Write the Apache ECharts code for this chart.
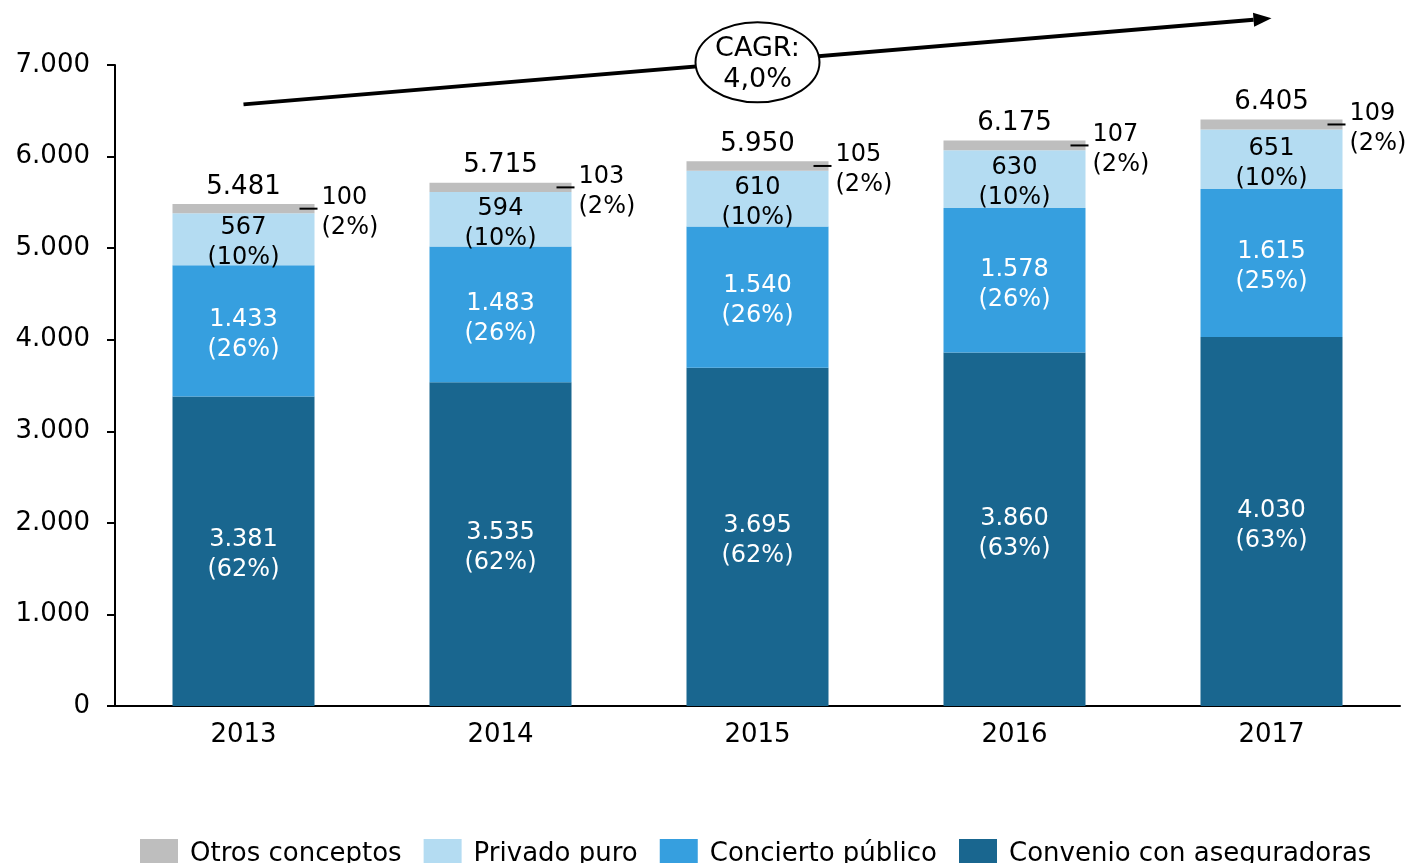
<!DOCTYPE html>
<html>
<head>
<meta charset="utf-8">
<script src="https://cdn.jsdelivr.net/npm/echarts@6/dist/echarts.min.js"></script>
<style>
  html, body { margin: 0; padding: 0; background: #fff; }
  #main { width: 1414px; height: 863px; }
</style>
</head>
<body>
<div id="main"></div>
<script>
  // datos
  const years = ['2013', '2014', '2015', '2016', '2017']
  const convenio = [3381, 3535, 3695, 3860, 4030]
  const concierto = [1433, 1483, 1540, 1578, 1615]
  const privado = [567, 594, 610, 630, 651]
  const otros = [100, 103, 105, 107, 109]
  const convenioPct = [62, 62, 62, 63, 63]
  const conciertoPct = [26, 26, 26, 26, 25]
  const privadoPct = [10, 10, 10, 10, 10]
  const otrosPct = [2, 2, 2, 2, 2]
  const totals = [5481, 5715, 5950, 6175, 6405]
  const yTicks = [0, 1000, 2000, 3000, 4000, 5000, 6000, 7000]
  const cagrText = 'CAGR:\n4,0%'

  const FONT = '"DejaVu Sans", Verdana, sans-serif'

  // 5481 -> 5.481
  function fmt (v) {
    return String(v).replace(/\B(?=(\d{3})+(?!\d))/g, '.')
  }

  function segLabel (vals, pcts, color) {
    return {
      show: true,
      position: 'inside',
      offset: [0, 4],
      color: color,
      fontFamily: FONT,
      fontSize: 24,
      lineHeight: 30,
      formatter: p => fmt(vals[p.dataIndex]) + '\n(' + pcts[p.dataIndex] + '%)'
    }
  }

  const chart = echarts.init(document.getElementById('main'))

  const option = {
    animation: false,
    textStyle: { fontFamily: FONT },
    grid: { left: 115, right: 14, top: 65, bottom: 157 },
    legend: {
      data: ['Otros conceptos', 'Privado puro', 'Concierto público', 'Convenio con aseguradoras'],
      left: 135,
      top: 834,
      itemWidth: 38,
      itemHeight: 30,
      itemGap: 22,
      icon: 'rect',
      textStyle: { fontFamily: FONT, fontSize: 26, color: '#000', padding: [2, 0, 0, 7] }
    },
    xAxis: {
      type: 'category',
      data: years,
      axisLine: { lineStyle: { color: '#000', width: 2 } },
      axisTick: { show: false },
      axisLabel: { color: '#000', fontSize: 26, margin: 16, fontFamily: FONT }
    },
    yAxis: {
      type: 'value',
      min: yTicks[0],
      max: yTicks[yTicks.length - 1],
      interval: 1000,
      splitLine: { show: false },
      axisLine: { show: true, lineStyle: { color: '#000', width: 2 } },
      axisTick: { show: true, length: 8, lineStyle: { color: '#000', width: 2 } },
      axisLabel: { color: '#000', fontSize: 26, margin: 25, padding: [6, 0, 0, 0], fontFamily: FONT, formatter: v => fmt(v) }
    },
    series: [
      {
        name: 'Convenio con aseguradoras',
        type: 'bar',
        stack: 'total',
        barWidth: 142,
        data: convenio,
        itemStyle: { color: '#19668f' },
        label: segLabel(convenio, convenioPct, '#fff')
      },
      {
        name: 'Concierto público',
        type: 'bar',
        stack: 'total',
        data: concierto,
        itemStyle: { color: '#369fdf' },
        label: segLabel(concierto, conciertoPct, '#fff')
      },
      {
        name: 'Privado puro',
        type: 'bar',
        stack: 'total',
        data: privado,
        itemStyle: { color: '#b4dcf2' },
        label: segLabel(privado, privadoPct, '#000')
      },
      {
        name: 'Otros conceptos',
        type: 'bar',
        stack: 'total',
        data: otros,
        itemStyle: { color: '#bebebe' },
        label: {
          show: true,
          position: 'right',
          distance: 7,
          offset: [0, 4],
          color: '#000',
          fontFamily: FONT,
          fontSize: 24,
          lineHeight: 30,
          formatter: p => fmt(otros[p.dataIndex]) + '\n(' + otrosPct[p.dataIndex] + '%)'
        }
      },
      {
        // solo para el total encima de la barra
        name: 'Total',
        type: 'bar',
        stack: 'total',
        data: totals.map(() => 0),
        itemStyle: { color: 'transparent' },
        label: {
          show: true,
          position: 'top',
          distance: 4,
          color: '#000',
          fontFamily: FONT,
          fontSize: 26,
          formatter: p => fmt(totals[p.dataIndex])
        }
      }
    ]
  }

  chart.setOption(option)

  // anotaciones: guiones de "otros", flecha CAGR y elipse
  function px (cat, v) {
    return chart.convertToPixel({ xAxisIndex: 0, yAxisIndex: 0 }, [cat, v])
  }

  const graphics = []
  years.forEach((y, i) => {
    const p = px(y, totals[i] - otros[i] / 2)
    graphics.push({
      type: 'line',
      shape: { x1: p[0] + 56, y1: p[1], x2: p[0] + 74, y2: p[1] },
      style: { stroke: '#000', lineWidth: 2 },
      z: 10
    })
  })

  const a = px('2013', 6570)
  const b = px('2017', 7510)
  const ang = Math.atan2(b[1] - a[1], b[0] - a[0])
  const headLen = 18, headW = 7
  const bx = b[0] - headLen * Math.cos(ang), by = b[1] - headLen * Math.sin(ang)
  graphics.push({
    type: 'line',
    shape: { x1: a[0], y1: a[1], x2: bx, y2: by },
    style: { stroke: '#000', lineWidth: 4 },
    z: 10
  })
  graphics.push({
    type: 'polygon',
    shape: {
      points: [
        [b[0], b[1]],
        [bx - headW * Math.sin(ang), by + headW * Math.cos(ang)],
        [bx + headW * Math.sin(ang), by - headW * Math.cos(ang)]
      ]
    },
    style: { fill: '#000' },
    z: 10
  })

  const c = px('2015', 7030)
  graphics.push({
    type: 'ellipse',
    shape: { cx: c[0], cy: c[1], rx: 62, ry: 40 },
    style: { fill: '#fff', stroke: '#000', lineWidth: 2 },
    z: 20
  })
  graphics.push({
    type: 'text',
    x: c[0],
    y: c[1] + 2,
    style: {
      text: cagrText,
      align: 'center',
      verticalAlign: 'middle',
      fontFamily: FONT,
      fontSize: 27,
      lineHeight: 31,
      fill: '#000'
    },
    z: 21
  })

  chart.setOption({ graphic: graphics })
</script>
</body>
</html>
